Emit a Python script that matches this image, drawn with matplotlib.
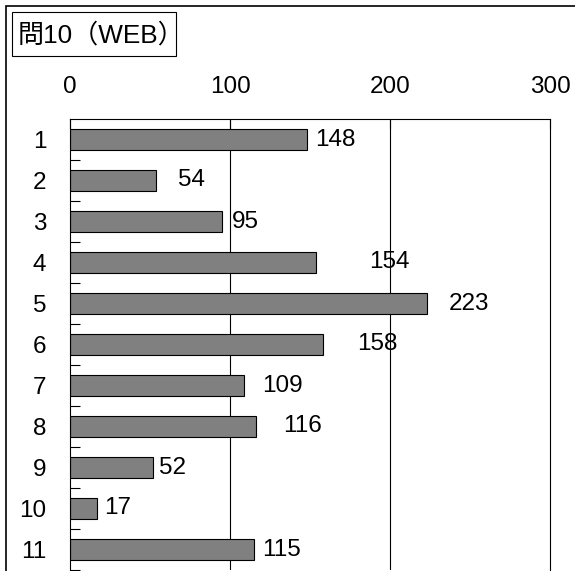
import matplotlib
matplotlib.use("Agg")
import matplotlib.pyplot as plt
from matplotlib.patches import Rectangle

plt.rcParams['font.family'] = ['Liberation Sans', 'Noto Sans CJK JP', 'DejaVu Sans']

title = "問10（WEB）"
categories = ["1", "2", "3", "4", "5", "6", "7", "8", "9", "10", "11"]
counts = [148, 54, 95, 154, 223, 158, 109, 116, 52, 17, 115]
x_ticks = [0, 100, 200, 300]
# horizontal gap (in pixels) between each bar end and its value label
label_gap_px = [8, 22, 10, 53, 22, 34, 18, 28, 6, 7, 8]

W, H = 575, 571
dpi = 100
FS = 17.5
fig = plt.figure(figsize=(W / dpi, H / dpi), dpi=dpi)

# outer frame of the chart area (runs off the right and bottom edges)
fig.patches.append(Rectangle((6 / W, -0.05), 1.1, 1.05 - 6 / H,
                             transform=fig.transFigure, fill=False,
                             edgecolor='black', linewidth=1.2))

ax = fig.add_axes([70 / W, 1 / H, 480 / W, (H - 119 - 1) / H])

y = list(range(len(categories)))
ax.barh(y, counts, height=0.5, color='#808080', edgecolor='black', linewidth=0.8)

ax.set_xlim(0, 300)
ax.set_ylim(len(categories) - 0.5, -0.5)

ax.set_xticks(x_ticks)
ax.set_xticklabels([str(t) for t in x_ticks], fontsize=FS)
ax.xaxis.tick_top()
ax.tick_params(axis='x', which='major', direction='in', length=7, width=0.8,
               pad=15, top=True, bottom=False)

ax.set_yticks(y)
ax.set_yticklabels(categories, fontsize=FS)
ax.tick_params(axis='y', which='major', length=0, pad=17)
ax.set_yticks([i + 0.5 for i in y], minor=True)
ax.tick_params(axis='y', which='minor', direction='in', length=7, width=0.8)

for x in x_ticks[1:-1]:
    ax.axvline(x, color='black', linewidth=0.8, zorder=0)

for s in ['left', 'top', 'right']:
    ax.spines[s].set_color('black')
    ax.spines[s].set_linewidth(0.8)
ax.spines['bottom'].set_visible(False)

for i, (v, g) in enumerate(zip(counts, label_gap_px)):
    ax.annotate(str(v), xy=(v, i), xytext=(g * 72 / dpi, 0),
                textcoords='offset points', ha='left', va='center',
                fontsize=FS)

# boxed title in the upper-left corner
fig.patches.append(Rectangle((12 / W, 1 - 56 / H), 164 / W, 44 / H,
                             transform=fig.transFigure, facecolor='white',
                             edgecolor='black', linewidth=0.8))
fig.text(18 / W, 1 - 35 / H, title, fontsize=18.8, ha='left', va='center')

fig.savefig("out.png", dpi=dpi)
